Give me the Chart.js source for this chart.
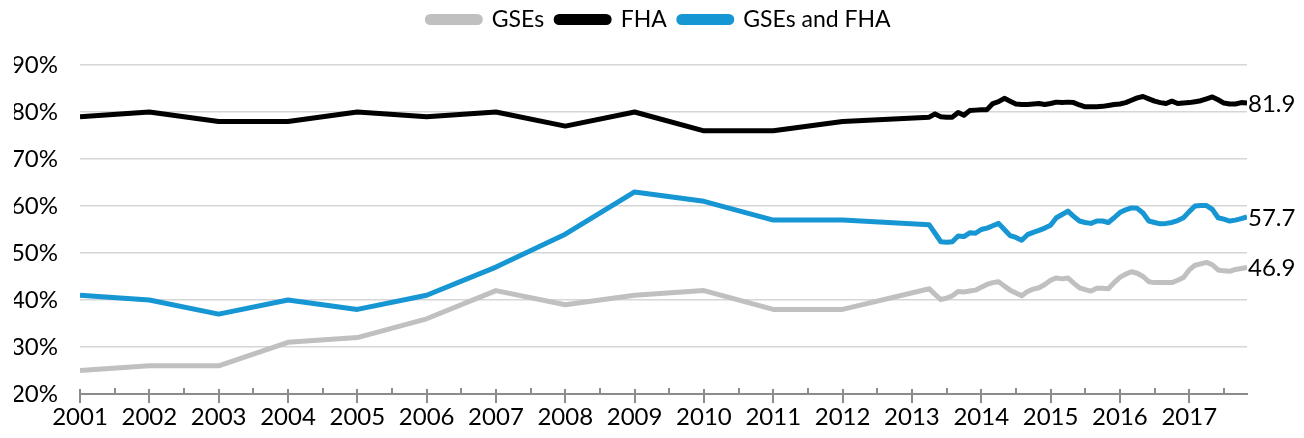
<!DOCTYPE html>
<html>
<head>
<meta charset="utf-8">
<script src="https://cdn.jsdelivr.net/npm/chart.js@4.4.1/dist/chart.umd.min.js"></script>
<style>
  html, body { margin: 0; padding: 0; background: #ffffff; }
  #wrap { width: 1304px; height: 438px; position: relative; }
</style>
</head>
<body>
<div id="wrap"><canvas id="c" width="1304" height="438"></canvas></div>
<script>
// Periods: annual 2001-2012, then monthly Apr 2013 - Nov 2017
const periods = [
  '2001','2002','2003','2004','2005','2006','2007','2008','2009','2010','2011','2012',
  '2013-04','2013-05','2013-06','2013-07','2013-08','2013-09','2013-10','2013-11','2013-12',
  '2014-01','2014-02','2014-03','2014-04','2014-05','2014-06','2014-07','2014-08','2014-09','2014-10','2014-11','2014-12',
  '2015-01','2015-02','2015-03','2015-04','2015-05','2015-06','2015-07','2015-08','2015-09','2015-10','2015-11','2015-12',
  '2016-01','2016-02','2016-03','2016-04','2016-05','2016-06','2016-07','2016-08','2016-09','2016-10','2016-11','2016-12',
  '2017-01','2017-02','2017-03','2017-04','2017-05','2017-06','2017-07','2017-08','2017-09','2017-10','2017-11'
];

const gses = [
  25, 26, 26, 31, 32, 36, 42, 39, 41, 42, 38, 38,
  42.4, 41.2, 40.1, 40.4, 40.9, 41.8, 41.7, 41.9, 42.1,
  42.7, 43.3, 43.7, 43.9, 43.0, 42.1, 41.5, 40.9, 41.8, 42.3, 42.6, 43.3,
  44.2, 44.7, 44.5, 44.7, 43.6, 42.6, 42.2, 41.9, 42.5, 42.5, 42.4, 43.7,
  44.8, 45.5, 46.0, 45.7, 45.0, 43.9, 43.7, 43.7, 43.7, 43.7, 44.2, 44.8,
  46.4, 47.4, 47.7, 48.0, 47.5, 46.4, 46.2, 46.1, 46.5, 46.7, 46.9
];

const fha = [
  79, 80, 78, 78, 80, 79, 80, 77, 80, 76, 76, 78,
  78.9, 79.6, 79.0, 78.9, 78.9, 79.9, 79.3, 80.3, 80.4,
  80.5, 80.5, 81.8, 82.2, 82.9, 82.3, 81.7, 81.6, 81.6, 81.7, 81.8, 81.6,
  81.8, 82.1, 82.0, 82.1, 82.0, 81.5, 81.1, 81.1, 81.1, 81.2, 81.4, 81.6,
  81.7, 82.0, 82.5, 83.0, 83.3, 82.8, 82.3, 82.0, 81.8, 82.3, 81.8, 81.9,
  82.0, 82.2, 82.4, 82.8, 83.2, 82.6, 81.9, 81.7, 81.7, 82.0, 81.9
];

const both = [
  41, 40, 37, 40, 38, 41, 47, 54, 63, 61, 57, 57,
  56.0, 54.2, 52.4, 52.3, 52.4, 53.6, 53.5, 54.3, 54.2,
  55.0, 55.3, 55.8, 56.3, 55.0, 53.7, 53.3, 52.7, 53.9, 54.4, 54.8, 55.3,
  55.9, 57.5, 58.2, 58.9, 57.8, 56.8, 56.5, 56.3, 56.8, 56.8, 56.5, 57.5,
  58.6, 59.2, 59.6, 59.5, 58.5, 56.8, 56.5, 56.2, 56.3, 56.5, 56.9, 57.5,
  58.8, 60.0, 60.1, 60.1, 59.3, 57.5, 57.2, 56.8, 57.0, 57.3, 57.7
];

const seriesNames = ['GSEs', 'FHA', 'GSEs and FHA'];
const tickLabels = ['2001','2002','2003','2004','2005','2006','2007','2008','2009','2010','2011','2012','2013','2014','2015','2016','2017'];
const yTicks = [20, 30, 40, 50, 60, 70, 80, 90];

// ---- build chart data from arrays ----
const toYear = p => p.length === 4 ? Number(p) : Number(p.slice(0, 4)) + (Number(p.slice(5, 7)) - 1) / 12;
const xs = periods.map(toYear);
const pts = arr => arr.map((v, i) => ({ x: xs[i], y: v }));
const tickYears = tickLabels.map(Number);

const FONT = 'Lato, "Open Sans", sans-serif';
const colors = ['#c0c0c0', '#000000', '#1696d2'];

const axisDecor = {
  id: 'axisDecor',
  afterDraw(chart) {
    const sx = chart.scales.x;
    const ctx = chart.ctx;
    const yb = sx.top;
    ctx.save();
    ctx.strokeStyle = '#8c8c8c';
    ctx.lineWidth = 2;
    ctx.beginPath();
    tickYears.forEach(v => {
      const px = Math.round(sx.getPixelForValue(v));
      ctx.moveTo(px, yb - 5); ctx.lineTo(px, yb + 9);
      if (v + 0.5 <= sx.max) {
        const pm = Math.round(sx.getPixelForValue(v + 0.5));
        ctx.moveTo(pm, yb - 6); ctx.lineTo(pm, yb);
      }
    });
    ctx.stroke();
    ctx.restore();
  }
};

const endLabels = {
  id: 'endLabels',
  afterDatasetsDraw(chart) {
    const ctx = chart.ctx;
    ctx.save();
    ctx.font = '24px ' + FONT;
    ctx.fillStyle = '#000';
    ctx.textAlign = 'left';
    ctx.textBaseline = 'middle';
    chart.data.datasets.forEach((ds, i) => {
      const meta = chart.getDatasetMeta(i);
      const last = meta.data[meta.data.length - 1];
      const val = ds.data[ds.data.length - 1].y;
      ctx.fillText(val.toFixed(1), last.x + 1, last.y + 1);
    });
    ctx.restore();
  }
};

new Chart(document.getElementById('c'), {
  type: 'line',
  data: {
    datasets: [
      { label: seriesNames[0], data: pts(gses), borderColor: colors[0], backgroundColor: colors[0] },
      { label: seriesNames[1], data: pts(fha), borderColor: colors[1], backgroundColor: colors[1] },
      { label: seriesNames[2], data: pts(both), borderColor: colors[2], backgroundColor: colors[2] }
    ]
  },
  options: {
    responsive: false,
    animation: false,
    devicePixelRatio: 1,
    layout: { padding: { top: -4, left: 14, right: 0, bottom: 0 } },
    elements: {
      line: { borderWidth: 5, tension: 0, borderJoinStyle: 'round', borderCapStyle: 'butt' },
      point: { radius: 0, hoverRadius: 0 }
    },
    plugins: {
      tooltip: { enabled: false },
      legend: {
        position: 'top',
        align: 'center',
        labels: {
          color: '#000',
          font: { family: FONT, size: 23 },
          boxWidth: 53,
          boxHeight: 6,
          padding: 12,
          useBorderRadius: true,
          borderRadius: 3
        }
      }
    },
    scales: {
      x: {
        type: 'linear',
        position: 'bottom',
        min: xs[0],
        max: xs[xs.length - 1],
        afterBuildTicks: s => { s.ticks = tickYears.map(v => ({ value: v })); },
        afterFit: s => { s.height = 44; },
        grid: { display: false, drawTicks: false },
        border: { display: true, color: '#8c8c8c', width: 2 },
        ticks: {
          autoSkip: false,
          maxRotation: 0,
          padding: 9,
          color: '#000',
          font: { family: FONT, size: 24 },
          callback: (v) => tickLabels[tickYears.indexOf(v)] ?? ''
        }
      },
      xTop: {
        type: 'linear',
        position: 'top',
        display: true,
        grid: { display: false, drawTicks: false },
        border: { display: false },
        ticks: { display: false },
        afterFit: s => { s.height = 24; }
      },
      yRight: {
        type: 'linear',
        position: 'right',
        display: true,
        grid: { display: false, drawTicks: false },
        border: { display: false },
        ticks: { display: false },
        afterFit: s => { s.width = 57; }
      },
      y: {
        type: 'linear',
        position: 'left',
        min: 20,
        max: 90,
        afterBuildTicks: s => { s.ticks = yTicks.map(v => ({ value: v })); },
        afterFit: s => { s.width = 66; },
        grid: {
          drawTicks: false,
          color: ctx => ctx.tick && ctx.tick.value === 20 ? 'rgba(0,0,0,0)' : '#d6d6d6',
          lineWidth: 1.5
        },
        border: { display: false },
        ticks: {
          padding: 22,
          color: '#000',
          font: { family: FONT, size: 24 },
          callback: v => v + '%'
        }
      }
    }
  },
  plugins: [axisDecor, endLabels]
});
</script>
</body>
</html>
